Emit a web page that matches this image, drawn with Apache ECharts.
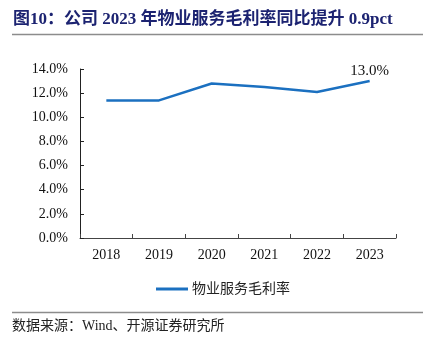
<!DOCTYPE html>
<html>
<head>
<meta charset="utf-8">
<script src="https://cdn.jsdelivr.net/npm/echarts@6/dist/echarts.min.js"></script>
<style>
  html, body { margin: 0; padding: 0; background: #ffffff; }
  #chart { width: 444px; height: 347px; }
</style>
</head>
<body>
<div id="chart"></div>
<script>
// Years on the category axis
const years = ['2018', '2019', '2020', '2021', '2022', '2023'];
// Property-service gross margin, in percent
const grossMargin = [11.4, 11.4, 12.8, 12.5, 12.1, 13.0];
// Y-axis range and step, in percent
const yMin = 0;
const yMax = 14;
const yStep = 2;

const seriesName = '物业服务毛利率';
const titleText = '图10：公司 2023 年物业服务毛利率同比提升 0.9pct';
const sourceText = '数据来源：Wind、开源证券研究所';

const serif = '"Liberation Serif", "Times New Roman", "Noto Sans CJK SC", serif';
const lineColor = '#1b70c0';

const chart = echarts.init(document.getElementById('chart'), null, { renderer: 'canvas' });

chart.setOption({
  backgroundColor: '#ffffff',
  animation: false,
  graphic: [
    {
      type: 'text', left: 13, top: 11,
      style: { text: titleText, font: 'bold 17px ' + serif, fill: '#1c2371' }
    },
    {
      type: 'line', shape: { x1: 12, y1: 34.5, x2: 423, y2: 34.5 },
      style: { stroke: '#8c8c8c', lineWidth: 1.5 }
    },
    {
      type: 'line', shape: { x1: 12, y1: 312.5, x2: 423, y2: 312.5 },
      style: { stroke: '#8c8c8c', lineWidth: 1.5 }
    },
    {
      type: 'text', left: 12, top: 319,
      style: { text: sourceText, font: '14px ' + serif, fill: '#222222' }
    }
  ],
  legend: {
    data: [seriesName],
    top: 277,
    left: 151,
    itemWidth: 32,
    itemHeight: 3,
    itemGap: 6,
    icon: 'rect',
    textStyle: { fontFamily: serif, fontSize: 14, color: '#222222', padding: [0, 0, 0, -1] }
  },
  grid: { left: 80, right: 48, top: 69, bottom: 109, containLabel: false },
  xAxis: {
    type: 'category',
    data: years,
    boundaryGap: true,
    axisLine: { lineStyle: { color: '#444444', width: 1 } },
    axisTick: { show: true, inside: true, length: 4, alignWithLabel: false, lineStyle: { color: '#444444' } },
    axisLabel: { fontFamily: serif, fontSize: 14, color: '#111111', margin: 10 }
  },
  yAxis: {
    type: 'value',
    min: yMin,
    max: yMax,
    interval: yStep,
    axisLine: { show: true, lineStyle: { color: '#222222', width: 1 } },
    axisTick: { show: true, inside: true, length: 4, lineStyle: { color: '#222222' } },
    splitLine: { show: false },
    axisLabel: {
      fontFamily: serif, fontSize: 14, color: '#111111', margin: 12,
      formatter: v => v.toFixed(1) + '%'
    }
  },
  series: [
    {
      name: seriesName,
      type: 'line',
      data: grossMargin,
      symbol: 'circle',
      symbolSize: 0,
      showSymbol: true,
      lineStyle: { color: lineColor, width: 2.5 },
      itemStyle: { color: lineColor },
      label: {
        show: true,
        position: 'top',
        distance: 3,
        fontFamily: serif,
        fontSize: 15,
        color: '#111111',
        formatter: p => (p.dataIndex === years.length - 1 ? p.value.toFixed(1) + '%' : '')
      }
    }
  ]
});
</script>
</body>
</html>
